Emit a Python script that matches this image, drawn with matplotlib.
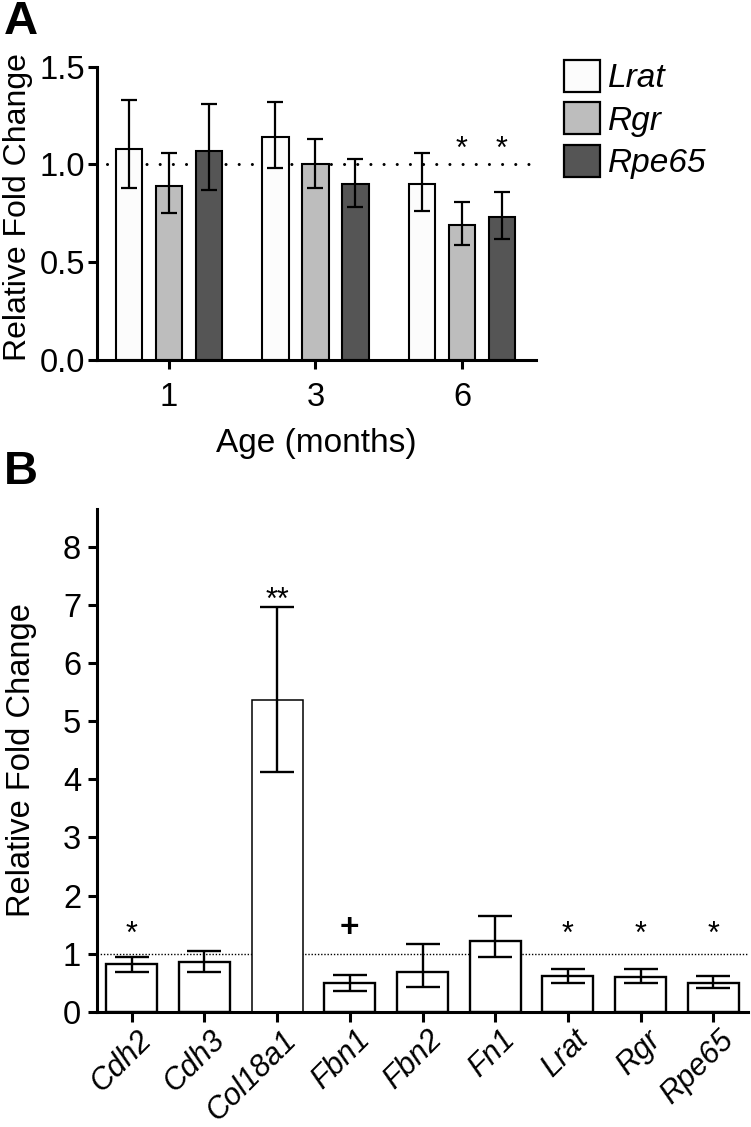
import matplotlib
matplotlib.use("Agg")
import matplotlib.pyplot as plt
from matplotlib.patches import Patch
from matplotlib.transforms import ScaledTranslation
import numpy as np

plt.rcParams["font.family"] = ["Liberation Sans", "DejaVu Sans"]

# ---- panel A : RPE genes by age ----
ages = ["1", "3", "6"]
genes_a = ["Lrat", "Rgr", "Rpe65"]
colors_a = ["#fcfcfc", "#bdbdbd", "#555555"]

lrat_a = [1.08, 1.14, 0.90]
lrat_a_lo = [0.88, 0.98, 0.76]
lrat_a_hi = [1.33, 1.32, 1.06]
rgr_a = [0.89, 1.00, 0.69]
rgr_a_lo = [0.75, 0.88, 0.59]
rgr_a_hi = [1.06, 1.13, 0.81]
rpe65_a = [1.07, 0.90, 0.73]
rpe65_a_lo = [0.87, 0.78, 0.62]
rpe65_a_hi = [1.31, 1.03, 0.86]
lrat_a_sig = ["", "", ""]
rgr_a_sig = ["", "", "*"]
rpe65_a_sig = ["", "", "*"]

# ---- panel B : gene panel ----
genes_b = ["Cdh2", "Cdh3", "Col18a1", "Fbn1", "Fbn2", "Fn1", "Lrat", "Rgr", "Rpe65"]
fold_b = [0.82, 0.85, 5.37, 0.50, 0.69, 1.21, 0.62, 0.60, 0.50]
lo_b = [0.69, 0.69, 4.13, 0.36, 0.42, 0.94, 0.50, 0.49, 0.40]
hi_b = [0.94, 1.05, 6.96, 0.63, 1.17, 1.65, 0.74, 0.74, 0.62]
sig_b = ["*", "", "**", "+", "", "", "*", "*", "*"]
edge_lw_b = [1.7, 1.7, 1.1, 1.7, 1.7, 1.7, 1.7, 1.7, 1.7]

# glyph centre height above baseline (em) for the marks
mark_mid = {"*": 0.57, "**": 0.57, "+": 0.36}

W, H = 751, 1127
fig = plt.figure(figsize=(W / 100, H / 100), dpi=100)

def px_axes(l, t, r, b):
    return fig.add_axes([l / W, 1 - b / H, (r - l) / W, (b - t) / H])

def style_axes(ax):
    for s in ("top", "right"):
        ax.spines[s].set_visible(False)
    for s in ("left", "bottom"):
        ax.spines[s].set_linewidth(2.2)
    ax.tick_params(width=2.2, length=6.5, direction="out")

def put_mark(ax, x, y, s, size):
    off = -mark_mid[s] * size
    fw = "bold" if s == "+" else "normal"
    ax.annotate(s, (x, y), xytext=(0, off), textcoords="offset points",
                ha="center", va="baseline", fontsize=size, fontweight=fw, zorder=5)

# ---------------- A ----------------
axA = px_axes(97, 66.7, 536, 360)
style_axes(axA)
xa = np.arange(len(ages))
width_a = 0.18
offs = [-0.273, 0.0, 0.273]
series = [(lrat_a, lrat_a_lo, lrat_a_hi, lrat_a_sig),
          (rgr_a, rgr_a_lo, rgr_a_hi, rgr_a_sig),
          (rpe65_a, rpe65_a_lo, rpe65_a_hi, rpe65_a_sig)]
for (vals, lo, hi, sig), off, col in zip(series, offs, colors_a):
    vals = np.array(vals)
    axA.bar(xa + off, vals, width_a, color=col, edgecolor="black", linewidth=1.5, zorder=2)
    axA.errorbar(xa + off, vals, yerr=[vals - np.array(lo), np.array(hi) - vals], fmt="none",
                 ecolor="black", elinewidth=1.6, capsize=6, capthick=1.6, zorder=3)
    for xi, s in zip(xa + off, sig):
        if s:
            put_mark(axA, xi, 1.125, s, 22)

axA.plot([-0.423, 2.5], [1, 1], color="black", linewidth=2.2, dashes=(0.01, 4.3),
         dash_capstyle="round", zorder=1)
axA.set_xlim(-0.49, 2.505)
axA.set_ylim(0, 1.5)
axA.set_yticks([0, 0.5, 1.0, 1.5])
axA.set_yticklabels(["0.0", "0.5", "1.0", "1.5"])
axA.set_xticks(xa)
axA.set_xticklabels(ages)
axA.tick_params(axis="y", labelsize=23.5, pad=2)
axA.tick_params(axis="x", labelsize=23.5, pad=9)
axA.set_ylabel("Relative Fold Change", fontsize=23)
axA.yaxis.set_label_coords(-0.145, 0.52)
axA.set_xlabel("Age (months)", fontsize=24)
axA.xaxis.set_label_coords(0.5, -0.232)

fig.legend(handles=[Patch(facecolor=c, edgecolor="black", linewidth=1.6, label=g)
                    for g, c in zip(genes_a, colors_a)],
           loc="upper left", bbox_to_anchor=(564 / W, 1 - 60 / H), frameon=False,
           prop={"size": 24, "style": "italic"}, handlelength=1.08, handleheight=1.1,
           labelspacing=0.24, handletextpad=0.25, borderpad=0, borderaxespad=0)

# ---------------- B ----------------
axB = px_axes(97, 509.3, 748, 1011.7)
style_axes(axB)
xb = np.arange(len(genes_b))
fb = np.array(fold_b)
axB.bar(xb, fb, 0.70, color="white", edgecolor="black", linewidth=edge_lw_b, zorder=2)
axB.errorbar(xb, fb, yerr=[fb - np.array(lo_b), np.array(hi_b) - fb], fmt="none",
             ecolor="black", elinewidth=1.7, capsize=12, capthick=1.7, zorder=3)
axB.axhline(1, color="black", linewidth=1.0, dashes=(1, 1.3), zorder=1)
for xi, h, s in zip(xb, hi_b, sig_b):
    if s:
        put_mark(axB, xi, max(1.49, h + 0.27), s, 24 if s == "+" else 22)

axB.set_xlim(-0.477, 8.477)
axB.set_ylim(0, 8.65)
axB.set_yticks(range(0, 9))
axB.tick_params(axis="y", labelsize=23.5, pad=5)
axB.tick_params(axis="x", labelsize=22, length=7.5, pad=2)
axB.set_xticks(xb)
axB.set_xticklabels(genes_b, rotation=45, ha="right", va="top",
                    rotation_mode="anchor", fontstyle="italic")
shift = ScaledTranslation(3.5 / 72, 0, fig.dpi_scale_trans)
for lab in axB.get_xticklabels():
    lab.set_transform(lab.get_transform() + shift)
axB.set_ylabel("Relative Fold Change", fontsize=23.5)
axB.yaxis.set_label_coords(-0.092, 0.5)

fig.text(4 / W, 1 - 0 / H, "A", fontsize=34, fontweight="bold", ha="left", va="top")
fig.text(4 / W, 1 - 450 / H, "B", fontsize=34, fontweight="bold", ha="left", va="top")

fig.savefig("out.png", dpi=100)
